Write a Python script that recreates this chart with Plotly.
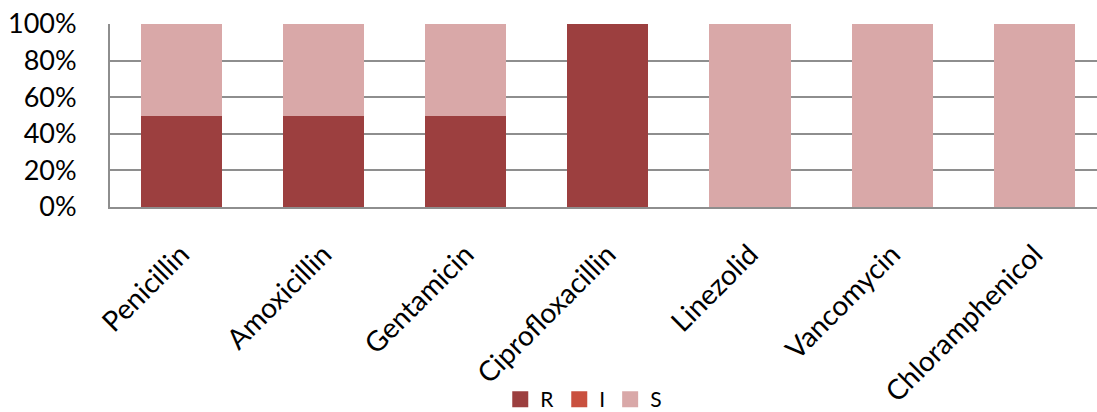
import plotly.graph_objects as go

# Susceptibility profile per antibiotic (share of isolates, %)
antibiotics = ["Penicillin", "Amoxicillin", "Gentamicin", "Ciprofloxacillin",
               "Linezolid", "Vancomycin", "Chloramphenicol"]
resistant = [50, 50, 50, 100, 0, 0, 0]
intermediate = [0, 0, 0, 0, 0, 0, 0]
susceptible = [50, 50, 50, 0, 100, 100, 100]

y_ticks = [0, 20, 40, 60, 80, 100]
y_labels = ["0%", "20%", "40%", "60%", "80%", "100%"]

FONT = "Lato, 'Open Sans', sans-serif"
GRID = "#8e8e8e"

series = [("R", resistant, "#9c3f3f"),
          ("I", intermediate, "#c9503f"),
          ("S", susceptible, "#d9a8a8")]

fig = go.Figure()
for name, vals, color in series:
    fig.add_trace(go.Bar(name=name, x=antibiotics, y=vals, width=0.57,
                         showlegend=False, legendgroup=name,
                         marker=dict(color=color, line=dict(width=0))))
# Legend entries with larger square swatches
for name, vals, color in series:
    fig.add_trace(go.Scatter(name=name, x=[None], y=[None], mode="markers",
                             legendgroup=name, showlegend=True,
                             marker=dict(symbol="square", size=16, color=color)))

fig.update_layout(
    barmode="stack",
    width=1097, height=412,
    margin=dict(l=110, r=0, t=24, b=205, autoexpand=False),
    plot_bgcolor="white", paper_bgcolor="white",
    font=dict(family=FONT, color="#000000"),
    showlegend=True,
    legend=dict(orientation="h", x=0.48, xanchor="center",
                yref="container", y=0.03, yanchor="middle",
                font=dict(size=21, family=FONT),
                itemwidth=30, traceorder="normal"),
    xaxis=dict(range=[-0.5, 6.44], tickangle=-45, automargin=False,
               tickfont=dict(size=28, family=FONT),
               ticklabelstandoff=18,
               showline=True, linecolor=GRID, linewidth=2,
               ticks="", showgrid=False, fixedrange=True),
    yaxis=dict(range=[0, 100], tickvals=y_ticks, ticktext=y_labels,
               automargin=False,
               tickfont=dict(size=27, family=FONT),
               ticklabelstandoff=26,
               showline=True, linecolor=GRID, linewidth=2,
               showgrid=True, gridcolor=GRID, gridwidth=2,
               zeroline=False, ticks="", fixedrange=True),
)

fig.write_html("out.html")
